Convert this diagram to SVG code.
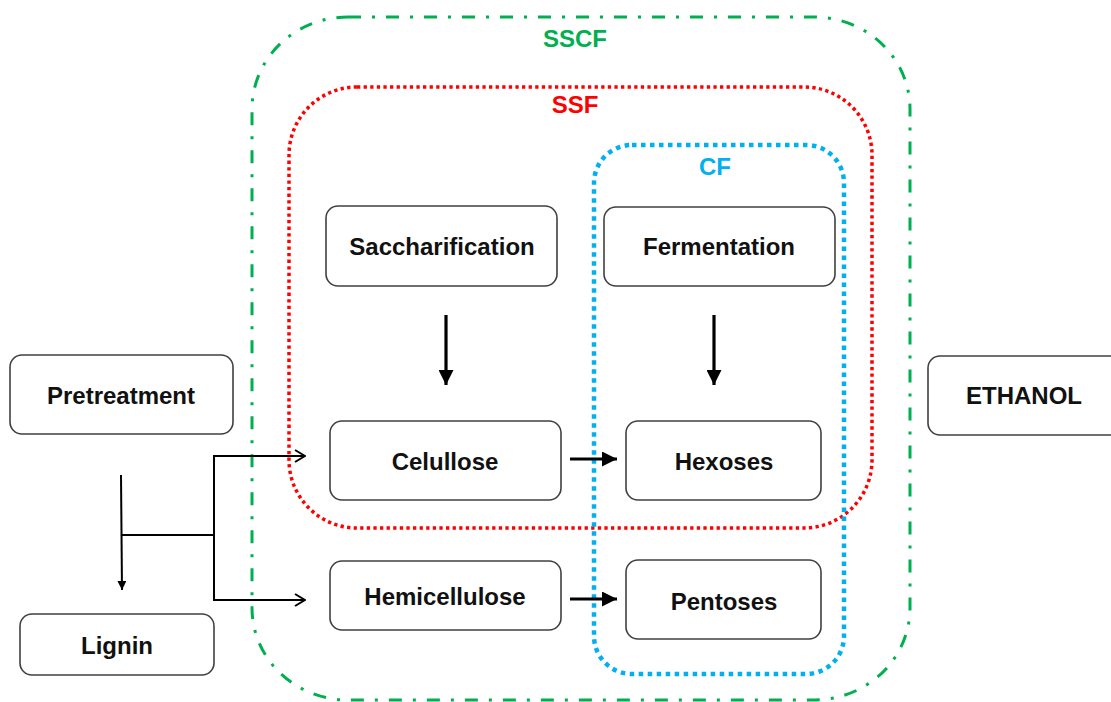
<svg xmlns="http://www.w3.org/2000/svg" width="1111" height="702" viewBox="0 0 1111 702">
<style>
.node rect{fill:#fff;stroke:#404040;stroke-width:1.6}
.node text{font-family:"Liberation Sans",Arial,sans-serif;font-weight:bold;font-size:24px;fill:#111;text-anchor:middle;dominant-baseline:central}
.lbl{font-family:"Liberation Sans",Arial,sans-serif;font-weight:bold;font-size:24px;text-anchor:middle}
.thick{stroke:#000;stroke-width:3.2;fill:none}
.thin{stroke:#000;stroke-width:2;fill:none}
</style>
<defs>
<marker id="solid" viewBox="0 0 10 10" refX="10" refY="5" markerUnits="userSpaceOnUse" markerWidth="15" markerHeight="15" orient="auto">
<path d="M0,0 L10,5 L0,10 z" fill="#000"/>
</marker>
<marker id="small" viewBox="0 0 10 10" refX="10" refY="5" markerUnits="userSpaceOnUse" markerWidth="9" markerHeight="9" orient="auto">
<path d="M0,0 L10,5 L0,10 z" fill="#000"/>
</marker>
<marker id="open" viewBox="0 0 12 14" refX="11" refY="7" markerUnits="userSpaceOnUse" markerWidth="12" markerHeight="14" orient="auto">
<path d="M1,1 L11,7 L1,13" fill="none" stroke="#000" stroke-width="2"/>
</marker>
</defs>
<rect width="1111" height="702" fill="#fff"/>
<g id="containers">
<g id="SSCF">
<rect x="252" y="17" width="658" height="683" rx="96" ry="92" fill="none" stroke="#00B050" stroke-width="3" stroke-dasharray="13 11 3 11"/>
<text class="lbl" x="575" y="47" fill="#00B050">SSCF</text>
</g>
<g id="SSF">
<rect x="289" y="87" width="583" height="441" rx="68" ry="68" fill="none" stroke="#FF0000" stroke-width="3.5" stroke-dasharray="3.3 3.3"/>
<text class="lbl" x="575" y="113" fill="#FF0000">SSF</text>
</g>
<g id="CF">
<rect x="594" y="145" width="250" height="529" rx="38" ry="38" fill="none" stroke="#00B0F0" stroke-width="4.5" stroke-dasharray="4.5 4.5"/>
<text class="lbl" x="715" y="175" fill="#00B0F0">CF</text>
</g>
</g>
<g id="n-saccharification" class="node"><rect x="326" y="206" width="231" height="80" rx="12"/><text x="442" y="246">Saccharification</text></g>
<g id="n-fermentation" class="node"><rect x="604" y="207" width="231" height="79" rx="12"/><text x="719" y="246">Fermentation</text></g>
<g id="n-pretreatment" class="node"><rect x="10" y="355" width="223" height="79" rx="12"/><text x="121" y="395">Pretreatment</text></g>
<g id="n-ethanol" class="node"><rect x="928" y="356" width="200" height="79" rx="12"/><text x="1024" y="395">ETHANOL</text></g>
<g id="n-celullose" class="node"><rect x="330" y="421" width="231" height="79" rx="12"/><text x="445" y="461">Celullose</text></g>
<g id="n-hexoses" class="node"><rect x="626" y="421" width="195" height="79" rx="12"/><text x="724" y="461">Hexoses</text></g>
<g id="n-hemicellulose" class="node"><rect x="330" y="561" width="231" height="69" rx="12"/><text x="445" y="596">Hemicellulose</text></g>
<g id="n-pentoses" class="node"><rect x="626" y="560" width="195" height="79" rx="12"/><text x="724" y="601">Pentoses</text></g>
<g id="n-lignin" class="node"><rect x="20" y="614" width="194" height="61" rx="12"/><text x="117" y="645">Lignin</text></g>
<g id="connectors">
<line class="thick" x1="446" y1="315" x2="446" y2="385" marker-end="url(#solid)"/>
<line class="thick" x1="714" y1="315" x2="714" y2="385" marker-end="url(#solid)"/>
<line class="thick" x1="570" y1="459" x2="617" y2="459" marker-end="url(#solid)"/>
<line class="thick" x1="570" y1="599" x2="617" y2="599" marker-end="url(#solid)"/>
<line class="thin" x1="121" y1="475" x2="122" y2="590" marker-end="url(#small)"/>
<line class="thin" x1="121" y1="535" x2="215" y2="535"/>
<line class="thin" x1="214" y1="456" x2="214" y2="600"/>
<line class="thin" x1="213" y1="456" x2="305" y2="456" marker-end="url(#open)"/>
<line class="thin" x1="213" y1="600" x2="305" y2="600" marker-end="url(#open)"/>
</g>
</svg>
